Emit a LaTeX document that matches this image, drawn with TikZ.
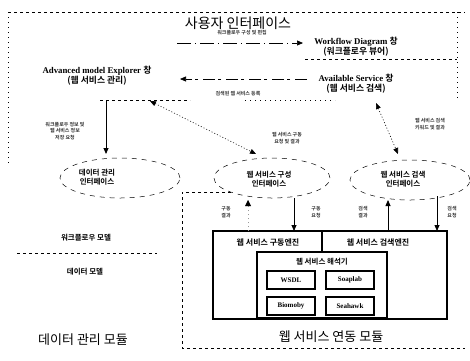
\documentclass[tikz,border=0pt]{standalone}
\usepackage{fontspec}
\setmainfont{Liberation Serif}
\newfontfamily\cjk{Noto Sans CJK KR}[BoldFont=Noto Sans CJK KR Bold]
\usetikzlibrary{arrows.meta,shapes.geometric}
\newcommand\kr[1]{{\cjk #1}}
\begin{document}
\begin{tikzpicture}[x=1pt,y=-1pt,
  frame/.style={line width=0.6pt, dash pattern=on 3pt off 3pt},
  dotframe/.style={line width=0.6pt, dash pattern=on 1pt off 4pt},
  ifshape/.style={ellipse, draw, line width=0.5pt, dash pattern=on 5pt off 5pt, inner sep=0pt},
  lbl/.style={font=\bfseries\fontsize{8.8}{10}\selectfont, align=center, inner sep=1pt},
  klbl/.style={font=\cjk\bfseries\fontsize{7.5}{9.5}\selectfont, align=center, inner sep=1pt},
  big/.style={font=\cjk\fontsize{13}{15}\selectfont, inner sep=1pt},
  tiny/.style={font=\cjk\bfseries\fontsize{5}{6.5}\selectfont, align=center, inner sep=0.5pt, text=black!80},
  tip/.style={-{Triangle[length=6pt,width=5pt]}},
  twotip/.style={{Triangle[length=6pt,width=5pt]}-{Triangle[length=6pt,width=5pt]}},
  ebox/.style={draw, line width=1.7pt, inner sep=0pt},
  sbox/.style={draw, line width=1.3pt, font=\bfseries\fontsize{7}{8}\selectfont, minimum width=48pt, minimum height=18pt, inner sep=0pt}
]
\useasboundingbox (0,0) rectangle (470,360);

% ---- user interface frame ----
\draw[frame] (8,12) -- (465,12);
\draw[dotframe] (8,12) -- (8,165);
\draw[dotframe] (457,12) -- (457,100);
\draw[frame] (305,59) -- (457,59);
\draw[frame] (100,100) -- (190,100);
\draw[dotframe] (245,100) -- (335,100);

\node[big, font=\cjk\fontsize{14}{16}\selectfont] (ui) at (238,23) {사용자 인터페이스};
\node[lbl] (ame) at (97,76) {Advanced model Explorer \kr{창}\\\kr{(웹 서비스 관리)}};
\node[lbl] (wfd) at (356,47) {Workflow Diagram \kr{창}\\\kr{(워크플로우 뷰어)}};
\node[lbl] (avs) at (356,84) {Available Service \kr{창}\\\kr{(웹 서비스 검색)}};

% arrows between windows
\coordinate (a1s) at (177,43);
\coordinate (a1e) at (303,43);
\coordinate (a2s) at (307,79);
\coordinate (a2e) at (180,79);
\draw[tip, line width=0.7pt, dash pattern=on 14pt off 4pt on 1pt off 4pt] (a1s) -- (a1e);
\draw[tip, line width=0.7pt, dash pattern=on 12pt off 5pt on 3pt off 3pt] (a2s) -- (a2e);
\node[tiny] (l1) at (242,33) {워크플로우 구성 및 편집};
\node[tiny] (l2) at (238,94) {검색된 웹 서비스 등록};

% ---- interfaces ----
\node[ifshape, minimum width=120pt, minimum height=40pt] (difs) at (120,178) {};
\node[ifshape, minimum width=116pt, minimum height=40pt] (cifs) at (272,178) {};
\node[ifshape, minimum width=120pt, minimum height=40pt] (sifs) at (410,180) {};
\node[klbl] (dif) at (97,177) {데이터 관리\\인터페이스};
\node[klbl] (cif) at (269,179) {웹 서비스 구성\\인터페이스};
\node[klbl] (sif) at (403,179) {웹 서비스 검색\\인터페이스};

% connectors from UI
\coordinate (ameb) at (106,100);
\coordinate (difn) at (106,154);
\draw[tip, line width=0.8pt] (ameb) -- (difn);
\node[tiny] (l3) at (65,131) {워크플로우 정보 및\\웹 서비스 정보\\저장 요청};

\coordinate (c1a) at (150,101);
\coordinate (c1b) at (256,154);
\draw[twotip, line width=0.6pt, dash pattern=on 1pt off 2pt] (c1a) -- (c1b);
\node[tiny] (l4) at (287,138) {웹 서비스 구동\\요청 및 결과};

\coordinate (c2a) at (376,103);
\coordinate (c2b) at (398,154);
\draw[twotip, line width=0.6pt, dash pattern=on 1pt off 2pt] (c2a) -- (c2b);
\node[tiny] (l5) at (430,124) {웹 서비스 검색\\키워드 및 결과};

% ---- lower left: data management module ----
\node[klbl] (wfm) at (86,238) {워크플로우 모델};
\draw[frame] (17,253) -- (157,253);
\node[klbl] (dm) at (85,272) {데이터 모델};
\node[big] (dmm) at (83,340) {데이터 관리 모듈};

% ---- web service integration module ----
\draw[frame] (231,192) -- (182,192) -- (182,348) -- (465,348);
\node[big] (wsm) at (331,337) {웹 서비스 연동 모듈};

\node[ebox, minimum width=234pt, minimum height=88pt] (eng) at (330,275) {};
\draw[line width=1.2pt] (322,232) -- (322,252);
\node[klbl, font=\cjk\bfseries\fontsize{8}{9.5}\selectfont] (run) at (268,242) {웹 서비스 구동엔진};
\node[klbl, font=\cjk\bfseries\fontsize{8}{9.5}\selectfont] (srch) at (378,242) {웹 서비스 검색엔진};

\node[draw, line width=1.4pt, minimum width=130pt, minimum height=66pt, inner sep=0pt] (parser) at (322,285) {};
\node[klbl] (ptitle) at (322,262) {웹 서비스 해석기};
\node[sbox] (wsdl) at (291,280) {WSDL};
\node[sbox] (soap) at (350,280) {Soaplab};
\node[sbox] (bio) at (291,306) {Biomoby};
\node[sbox] (sea) at (350,306) {Seahawk};

% arrows interfaces <-> engines
\coordinate (r1t) at (248,200);
\coordinate (r1b) at (248,231);
\draw[tip, line width=0.4pt, black!40, dash pattern=on 1pt off 3pt] (r1b) -- (r1t);
\fill (r1t) -- ++(-3,6) -- ++(6,0) -- cycle;
\coordinate (r2t) at (294,198);
\coordinate (r2b) at (294,231);
\draw[tip, line width=0.8pt] (r2t) -- (r2b);
\coordinate (r3t) at (388,200);
\coordinate (r3b) at (388,231);
\draw[tip, line width=0.8pt] (r3b) -- (r3t);
\coordinate (r4t) at (437,196);
\coordinate (r4b) at (437,231);
\draw[tip, line width=0.8pt] (r4t) -- (r4b);

\node[tiny] (l6) at (226,212) {구동\\결과};
\node[tiny] (l7) at (316,212) {구동\\요청};
\node[tiny] (l8) at (363,212) {검색\\결과};
\node[tiny] (l9) at (452,212) {검색\\요청};
\end{tikzpicture}
\end{document}
